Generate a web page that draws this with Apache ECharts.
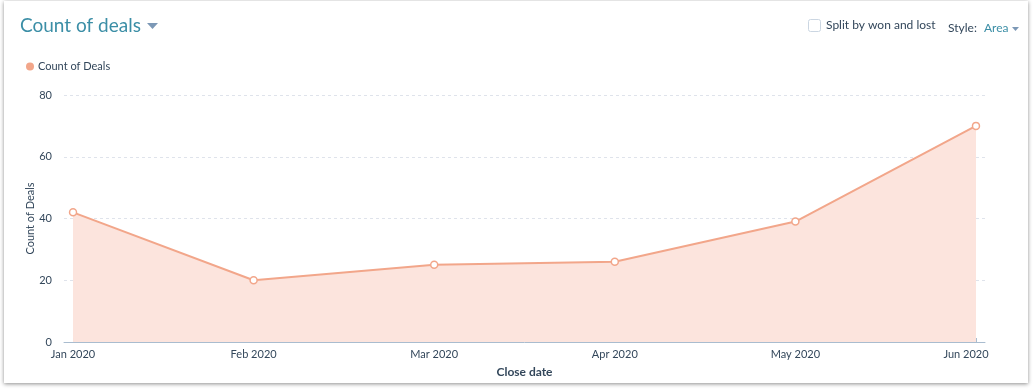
<!DOCTYPE html>
<html>
<head>
<meta charset="utf-8">
<script src="https://cdn.jsdelivr.net/npm/echarts@6/dist/echarts.min.js"></script>
<style>
  html, body { margin: 0; padding: 0; background: #ffffff; }
  #card { position: absolute; left: 4px; top: 1px; width: 1024px; height: 382px; background: #fff;
          box-shadow: 0 1px 4px rgba(0,0,0,0.45); }
  #chart { position: absolute; left: 0; top: 0; width: 1034px; height: 390px; }
</style>
</head>
<body>
<div id="card"></div>
<div id="chart"></div>
<script>
const categories = ['Jan 2020', 'Feb 2020', 'Mar 2020', 'Apr 2020', 'May 2020', 'Jun 2020'];
const dealCounts = [42, 20, 25, 26, 39, 70];
const yTicks = [0, 20, 40, 60, 80];
const seriesName = 'Count of Deals';

const FONT = 'Lato, "Open Sans", sans-serif';
const chart = echarts.init(document.getElementById('chart'), null, { renderer: 'canvas' });
const idx = categories.map((c, i) => i);
const lastIdx = categories.length - 1;

chart.setOption({
  animation: false,
  textStyle: { fontFamily: FONT },
  title: {
    text: 'Count of deals',
    left: 15, top: 11,
    textStyle: { fontFamily: FONT, fontSize: 19, fontWeight: 'normal', color: '#3b8ea6' }
  },
  legend: {
    data: [{ name: seriesName, icon: 'circle', itemStyle: { color: '#f2a68a', borderWidth: 0 } }],
    left: 21, top: 56,
    itemWidth: 8, itemHeight: 8, itemGap: 4,
    textStyle: { fontFamily: FONT, fontSize: 11, color: '#33475b', padding: [0, 0, 0, -1] }
  },
  graphic: [
    { type: 'polygon', shape: { points: [[147, 23], [158, 23], [152.5, 29]] }, style: { fill: '#7c98b6' } },
    { type: 'rect', shape: { x: 808.5, y: 19.5, width: 12, height: 12, r: 2 }, style: { fill: '#fff', stroke: '#cbd6e2', lineWidth: 1 } },
    { type: 'text', left: 826, top: 19, style: { text: 'Split by won and lost', font: '12px ' + FONT, fill: '#33475b' } },
    { type: 'text', left: 948, top: 22, style: { text: 'Style:', font: '12px ' + FONT, fill: '#33475b' } },
    { type: 'text', left: 984, top: 22, style: { text: 'Area', font: '12px ' + FONT, fill: '#3b8ea6' } },
    { type: 'polygon', shape: { points: [[1012, 27], [1019, 27], [1015.5, 31]] }, style: { fill: '#7c98b6' } }
  ],
  grid: { left: 64, right: 49, top: 95, bottom: 48, containLabel: false },
  xAxis: {
    type: 'value',
    min: -0.05, max: 5.05,
    name: 'Close date',
    nameLocation: 'middle',
    nameGap: 24,
    nameMoveOverlap: false,
    nameTextStyle: { fontFamily: FONT, fontSize: 12, fontWeight: 'bold', color: '#33475b' },
    axisLine: { show: true, lineStyle: { color: '#a9bccf', width: 1 } },
    axisTick: { show: true, inside: true, length: 4, customValues: idx, lineStyle: { color: '#a9bccf' } },
    axisLabel: {
      customValues: idx,
      formatter: v => {
        const i = Math.round(v);
        return i === lastIdx ? '{last|' + categories[i] + '}' : categories[i];
      },
      rich: { last: { fontFamily: FONT, fontSize: 11, color: '#33475b', padding: [0, 20, 0, 0] } },
      fontFamily: FONT, fontSize: 11, color: '#33475b', margin: 7
    },
    splitLine: { show: false }
  },
  yAxis: {
    type: 'value',
    min: yTicks[0], max: yTicks[yTicks.length - 1], interval: 20,
    name: 'Count of Deals',
    nameLocation: 'middle',
    nameGap: 28,
    nameMoveOverlap: false,
    nameTextStyle: { fontFamily: FONT, fontSize: 11, color: '#33475b' },
    axisLine: { show: false },
    axisTick: { show: false },
    axisLabel: { fontFamily: FONT, fontSize: 11, color: '#33475b', margin: 12 },
    splitLine: { show: true, lineStyle: { color: '#dfe3eb', type: [3, 3], width: 1 } }
  },
  series: [{
    name: seriesName,
    type: 'line',
    data: dealCounts.map((v, i) => [i, v]),
    symbol: 'circle',
    symbolSize: 7,
    showAllSymbol: true,
    itemStyle: { color: '#fff', borderColor: '#f2a68a', borderWidth: 1.5 },
    lineStyle: { color: '#f2a68a', width: 2 },
    areaStyle: { color: '#fce4dd', opacity: 1 }
  }]
});
</script>
</body>
</html>
